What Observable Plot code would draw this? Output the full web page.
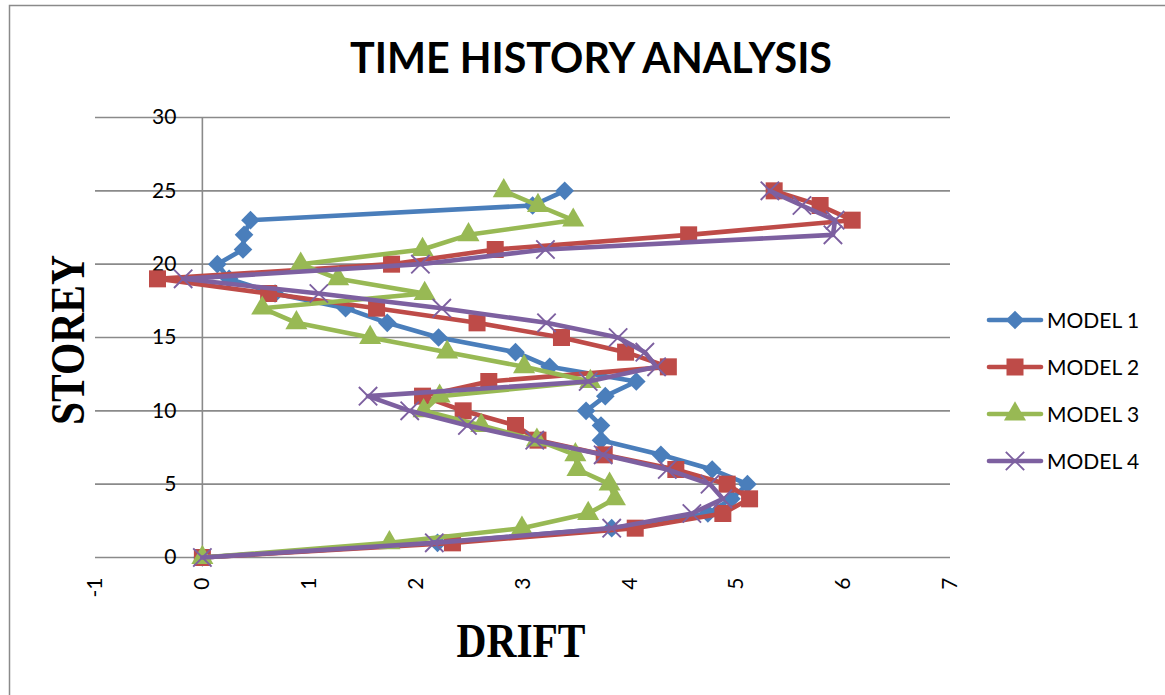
<!DOCTYPE html>
<html>
<head>
<meta charset="utf-8">
<script src="https://cdn.jsdelivr.net/npm/d3@7"></script>
<script src="https://cdn.jsdelivr.net/npm/@observablehq/plot@0.6"></script>
<style>
  html, body { margin: 0; padding: 0; background: #fff; }
  #chart { position: relative; width: 1165px; height: 695px; overflow: hidden; }
</style>
</head>
<body>
<div id="chart"></div>
<script>
// ---- data ----
const storey = [0,1,2,3,4,5,6,7,8,9,10,11,12,13,14,15,16,17,18,19,20,21,22,23,24,25];
const model1 = [0,2.2,3.83,4.73,4.95,5.1,4.77,4.29,3.73,3.73,3.59,3.77,4.06,3.25,2.93,2.21,1.73,1.34,0.68,0.25,0.14,0.38,0.39,0.45,3.09,3.39];
const model2 = [0,2.34,4.05,4.87,5.12,4.91,4.43,3.76,3.14,2.93,2.44,2.06,2.68,4.36,3.96,3.36,2.57,1.63,0.62,-0.42,1.77,2.74,4.55,6.08,5.78,5.35];
const model3 = [0,1.75,2.99,3.61,3.86,3.81,3.51,3.49,3.13,2.61,2.07,2.22,3.63,3.01,2.29,1.57,0.88,0.56,2.08,1.27,0.92,2.06,2.49,3.47,3.14,2.82];
const model4 = [0,2.17,3.83,4.58,4.87,4.75,4.35,3.75,3.11,2.48,1.94,1.55,3.61,4.25,4.14,3.89,3.22,2.24,1.09,-0.18,2.04,3.21,5.9,5.92,5.61,5.31];
const seriesNames = ["MODEL 1","MODEL 2","MODEL 3","MODEL 4"];
const xTicks = [-1,0,1,2,3,4,5,6,7];
const yTicks = [0,5,10,15,20,25,30];
const title = "TIME HISTORY ANALYSIS";
const xLabel = "DRIFT";
const yLabel = "STOREY";

// ---- styles ----
const colors = ["#4A7EBB","#BE4B48","#98B954","#7D60A0"];
const symbols = ["diamond2","square","triangle","times"];
const radii = [8.4, 9.6, 8.2, 8.4];
const allValues = [model1, model2, model3, model4];

const series = seriesNames.map((name, i) => ({
  name, color: colors[i], symbol: symbols[i], r: radii[i],
  rows: storey.map((s, j) => ({storey: s, drift: allValues[i][j]}))
}));

const sansFont = "Lato, 'Open Sans', sans-serif";
const serifFont = "'Liberation Serif', 'DejaVu Serif', serif";
const grid = "#8a8a8a";

const marks = [
  Plot.ruleY(yTicks, {stroke: grid, strokeWidth: 1.6}),
  Plot.ruleX([0], {y1: 0, y2: 30, stroke: grid, strokeWidth: 1.6}),
  Plot.text(yTicks, {x: 0, y: d => d, text: d => String(d), textAnchor: "end", dx: -26,
    fontSize: 21, fontFamily: sansFont, fill: "#000"}),
  Plot.text(xTicks, {x: d => d, y: 0, text: d => String(d), rotate: -90, textAnchor: "end", dy: 20,
    fontSize: 21, fontFamily: sansFont, fill: "#000"})
];
for (const s of series) {
  marks.push(Plot.line(s.rows, {x: "drift", y: "storey", stroke: s.color, strokeWidth: 4.6,
    strokeLinejoin: "round", strokeLinecap: "round"}));
  if (s.symbol === "times") {
    marks.push(Plot.dot(s.rows, {x: "drift", y: "storey", symbol: "times", r: s.r,
      stroke: s.color, strokeWidth: 1.9, fill: "none"}));
  } else {
    marks.push(Plot.dot(s.rows, {x: "drift", y: "storey", symbol: s.symbol, r: s.r,
      fill: s.color, stroke: "none"}));
  }
}

const svg = Plot.plot({
  width: 1165,
  height: 695,
  marginLeft: 95,
  marginRight: 215,
  marginTop: 117,
  marginBottom: 138,
  x: {domain: [-1, 7], axis: null},
  y: {domain: [0, 30], axis: null},
  style: {background: "#fff", overflow: "hidden"},
  marks
});
document.getElementById("chart").appendChild(svg);

// ---- decorations: border, title, axis titles, legend ----
const root = d3.select(svg);
root.insert("rect", ":first-child")
  .attr("x", 9.5).attr("y", 5.5).attr("width", 1200).attr("height", 800)
  .attr("fill", "none").attr("stroke", "#8a8a8a").attr("stroke-width", 1.5);

root.append("text")
  .attr("x", 591).attr("y", 73).attr("text-anchor", "middle")
  .attr("font-family", sansFont).attr("font-weight", "bold").attr("font-size", 42)
  .attr("textLength", 482).attr("lengthAdjust", "spacingAndGlyphs")
  .attr("fill", "#000").text(title);

root.append("text")
  .attr("x", 521).attr("y", 657).attr("text-anchor", "middle")
  .attr("font-family", serifFont).attr("font-weight", "bold").attr("font-size", 48)
  .attr("textLength", 129).attr("lengthAdjust", "spacingAndGlyphs")
  .attr("fill", "#000").text(xLabel);

root.append("text")
  .attr("transform", "translate(84,340) rotate(-90)").attr("text-anchor", "middle")
  .attr("font-family", serifFont).attr("font-weight", "bold").attr("font-size", 48)
  .attr("textLength", 170).attr("lengthAdjust", "spacingAndGlyphs")
  .attr("fill", "#000").text(yLabel);

const legendY = [320, 367, 414, 461];
const symMap = {diamond2: d3.symbolDiamond2, square: d3.symbolSquare, triangle: d3.symbolTriangle, times: d3.symbolTimes};
series.forEach((s, i) => {
  const g = root.append("g").attr("transform", `translate(0,${legendY[i]})`);
  g.append("line").attr("x1", 989).attr("x2", 1041).attr("y1", 0).attr("y2", 0)
    .attr("stroke", s.color).attr("stroke-width", 4.6).attr("stroke-linecap", "round");
  const path = d3.symbol(symMap[s.symbol], Math.PI * s.r * s.r)();
  const p = g.append("path").attr("d", path).attr("transform", "translate(1015,0)");
  if (s.symbol === "times") p.attr("fill", "none").attr("stroke", s.color).attr("stroke-width", 1.9);
  else p.attr("fill", s.color);
  g.append("text").attr("x", 1047).attr("y", 0).attr("dy", "0.36em").attr("text-anchor", "start")
    .attr("font-family", sansFont).attr("font-size", 21).attr("fill", "#000").text(s.name);
});
</script>
</body>
</html>
